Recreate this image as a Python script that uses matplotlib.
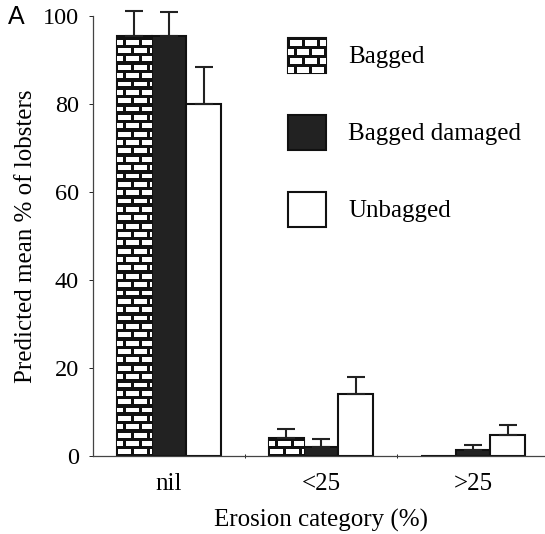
import matplotlib
matplotlib.use("Agg")
import matplotlib.pyplot as plt
import matplotlib.patches as mpatches
import numpy as np

fontsize = 18
plt.rcParams.update({
    'font.family': 'Liberation Serif',
    'axes.labelsize': fontsize,
    'xtick.labelsize': fontsize,
    'ytick.labelsize': 17.5,
})

# data
categories = ["nil", "<25", ">25"]
series = ["Bagged", "Bagged damaged", "Unbagged"]
bagged = [95.5, 4.2, 0.0]
bagged_err = [5.6, 1.9, 0.0]
damaged = [95.5, 2.1, 1.4]
damaged_err = [5.5, 1.7, 1.1]
unbagged = [80.0, 14.1, 4.8]
unbagged_err = [8.5, 3.8, 2.2]
yticks = [0, 20, 40, 60, 80, 100]

width = 0.23
faces = ["brick", "#222222", "white"]


def brick_fill(ax, patch, row_h, brick_w, gap_x, gap_y):
    # white bricks on black mortar, clipped to the patch outline
    x0, y0 = patch.get_x(), patch.get_y()
    w, h = patch.get_width(), patch.get_height()
    nrows = int(np.ceil(abs(h) / row_h)) + 1
    step = row_h if h > 0 else -row_h
    for r in range(nrows):
        yb = y0 + r * step + gap_y / 2 * np.sign(step)
        off = 0 if r % 2 == 0 else brick_w / 2
        xb = x0 - brick_w + off
        while xb < x0 + w:
            b = mpatches.Rectangle((xb + gap_x / 2, yb), brick_w - gap_x,
                                   (row_h - gap_y) * np.sign(step),
                                   facecolor="white", edgecolor="none",
                                   zorder=patch.get_zorder() + 0.1)
            ax.add_patch(b)
            b.set_clip_path(patch)
            xb += brick_w


fig = plt.figure(figsize=(5.45, 5.34), dpi=100)
ax = fig.add_axes([93 / 545, 78 / 534, 456 / 545, 440 / 534])

x = np.arange(len(categories)) + 0.5
groups = [(bagged, bagged_err), (damaged, damaged_err), (unbagged, unbagged_err)]
for i, (vals, errs) in enumerate(groups):
    pos = x + (i - 1) * width
    fc = "#111111" if faces[i] == "brick" else faces[i]
    bars = ax.bar(pos, vals, width, color=fc, edgecolor="#111111", linewidth=1.5, zorder=2)
    if faces[i] == "brick":
        for b in bars:
            if b.get_height() > 0:
                brick_fill(ax, b, 1.9, 0.105, 0.024, 0.8)
    for p, v, e in zip(pos, vals, errs):
        if v > 0:
            ax.errorbar(p, v, yerr=[[0], [e]], fmt="none", ecolor="#222222",
                        elinewidth=1.5, capsize=6.5, capthick=1.5, clip_on=False, zorder=3)

ax.set_xlim(0, 3)
ax.set_ylim(0, 100)
ax.set_yticks(yticks)
ax.set_xticks(x)
ax.set_xticklabels(categories)
ax.set_xticks([1, 2], minor=True)
ax.tick_params(axis="x", which="major", length=0, pad=12)
ax.tick_params(axis="x", which="minor", length=3, direction="inout", width=0.6)
ax.tick_params(axis="y", length=3, width=0.6, pad=7)
for s in ["top", "right"]:
    ax.spines[s].set_visible(False)
ax.spines["left"].set_linewidth(0.9)
ax.spines["bottom"].set_linewidth(0.9)
ax.spines["left"].set_color("#444444")
ax.spines["bottom"].set_color("#444444")

ax.set_xlabel("Erosion category (%)", labelpad=10)
ax.set_ylabel("Predicted mean % of lobsters", labelpad=4)

# legend boxes on an overlay axes laid out in pixel units
lax = fig.add_axes([0, 0, 1, 1])
lax.set_xlim(0, 545)
lax.set_ylim(534, 0)
lax.axis("off")

legend_y = [38, 115, 192]
for i, (name, ly) in enumerate(zip(series, legend_y)):
    fc = "#111111" if faces[i] == "brick" else faces[i]
    r = mpatches.Rectangle((288, ly), 38, 35, facecolor=fc, edgecolor="#111111",
                           linewidth=1.5, zorder=5)
    lax.add_patch(r)
    if faces[i] == "brick":
        brick_fill(lax, r, 9, 15, 3, 3)
    lax.text(348, ly + 19, name, fontsize=fontsize, va="center", ha="left")

lax.text(8, 17, "A", fontsize=18, family="Liberation Sans", va="center", ha="left")

fig.savefig("out.png", dpi=100)
